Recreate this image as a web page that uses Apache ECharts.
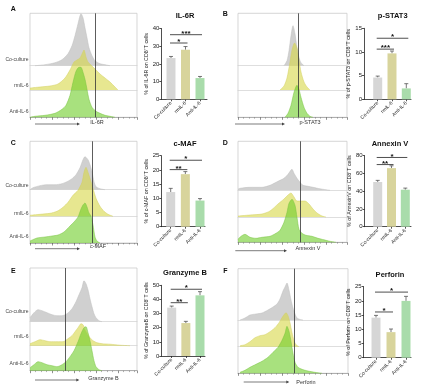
<!DOCTYPE html>
<html><head><meta charset="utf-8">
<script src="https://cdn.jsdelivr.net/npm/echarts@6/dist/echarts.min.js"></script>
<style>html,body{margin:0;padding:0;background:#fff}#c{width:427px;height:389px}</style>
</head><body><div id="c"></div>
<script>
// ---------- DATA ----------
const categories = ['Co-culture', 'rmIL-6', 'Anti-IL-6'];

// bar means, SEM and significance brackets [groupA, groupB, height, label]
const il6rMean = [23.3, 28.0, 12.0];   const il6rErr = [0.9, 1.8, 0.9];
const il6rSig = [[1, 2, 31.8, '*'], [1, 3, 36.5, '***']];
const pstat3Mean = [4.6, 9.7, 2.3];    const pstat3Err = [0.3, 0.5, 1.0];
const pstat3Sig = [[1, 2, 10.6, '***'], [1, 3, 12.9, '*']];
const cmafMean = [12.2, 18.5, 9.2];    const cmafErr = [1.3, 0.9, 0.7];
const cmafSig = [[1, 2, 20.1, '**'], [1, 3, 23.4, '*']];
const annexinMean = [50.4, 66.0, 41.7]; const annexinErr = [1.8, 2.6, 1.8];
const annexinSig = [[1, 2, 70, '**'], [1, 3, 78, '*']];
const gzmbMean = [34.2, 23.3, 42.9];   const gzmbErr = [1.1, 1.2, 2.6];
const gzmbSig = [[1, 2, 37.7, '**'], [1, 3, 47.2, '*']];
const prfMean = [14.1, 9.0, 20.0];     const prfErr = [0.8, 1.1, 1.6];
const prfSig = [[1, 2, 16.1, '*'], [1, 3, 23.1, '*']];

// flow histograms [intensity, count]
const il6rCo = [[5,0],[15,1],[25,3],[32,6],[38,12],[42,20],[45,30],[48,42],[50,50],[51,52],[53,48],[55,38],[57,28],[59,18],[62,10],[65,5],[70,2],[75,1],[80,0]];
const il6rRm = [[0,2],[10,3],[20,4],[28,6],[35,12],[40,20],[44,28],[47,30],[50,32],[52,36],[54,40],[56,33],[58,28],[62,24],[66,20],[70,16],[75,12],[80,8],[85,3],[88,0]];
const il6rAnti = [[0,0],[5,1],[15,2],[25,4],[32,8],[36,12],[40,22],[43,35],[46,46],[49,50],[51,50],[53,45],[55,38],[57,28],[59,18],[62,10],[66,6],[70,4],[75,2],[80,1],[85,0]];
const pstat3Co = [[46,0],[49,5],[51,15],[53,30],[55,40],[57,32],[59,18],[61,8],[63,3],[66,0]];
const pstat3Rm = [[42,0],[46,4],[49,12],[52,28],[54,40],[56.5,47],[59,42],[61,30],[63,18],[66,8],[69,3],[72,0]];
const pstat3Anti = [[47,0],[50,4],[53,12],[56,25],[59,32],[61,28],[63,20],[66,10],[69,4],[72,1],[75,0]];
const cmafCo = [[0,0],[3,2],[10,4],[17,5],[25,5],[32,6],[37,8],[42,11],[46,15],[50,22],[53,30],[55,33],[58,30],[60,25],[62,18],[64,8],[66,3],[70,1],[75,0]];
const cmafRm = [[0,1],[10,2],[20,3],[27,5],[33,9],[38,14],[43,21],[48,26],[52,34],[54,44],[56,49],[58,44],[60,38],[63,28],[66,18],[70,10],[74,5],[78,2],[83,0]];
const cmafAnti = [[0,2],[7,5],[15,6],[22,7],[28,8],[34,11],[40,17],[44,21],[48,26],[51,34],[53,38],[55,40],[57,36],[59,30],[61,27],[63,18],[65,6],[67,2],[70,0]];
const annexinCo = [[0,1],[2,2],[12,3],[24,3],[32,5],[40,9],[46,12],[50,16],[54,21],[56,17],[59,12],[62,8],[65,5],[70,4],[75,3],[82,1.5],[92,0]];
const annexinRm = [[0,1],[12,2],[24,3],[32,6],[40,13],[46,18],[50,22],[53,24],[56,20],[59,16],[63,16],[67,16],[71,13],[75,8],[79,4],[84,1],[88,0]];
const annexinAnti = [[0,3],[3,6],[7,8],[12,5],[18,4],[24,5],[32,6],[38,9],[42,12],[46,20],[49,30],[51,39],[54,43],[57,37],[59,25],[61,13],[64,9],[68,7],[74,6],[80,4],[86,2.5],[92,1],[98,0]];
const gzmbCo = [[0,4],[4,9],[8,12],[12,11],[17,9],[22,7],[27,6],[32,6],[37,8],[42,13],[46,20],[49,27],[52,34],[54,41],[56,38],[58,32],[60,23],[62,15],[64,8],[66,4],[69,1],[72,0]];
const gzmbRm = [[0,2],[5,4],[10,6],[15,5],[20,4],[27,4],[33,4],[38,7],[42,10],[45,14],[48,18],[51,22],[53,21],[55,17],[57,13],[60,8],[63,5],[67,3],[72,2],[80,1.5],[90,0.5],[100,0]];
const gzmbAnti = [[0,3],[4,6],[8,9],[12,8],[17,6],[22,5],[27,4],[32,6],[36,9],[40,14],[44,20],[48,29],[51,37],[54,43],[56,44],[58,38],[60,30],[62,20],[64,10],[66,4],[69,1],[72,0]];
const prfCo = [[2,0],[7,2],[12,5],[18,6],[24,7],[30,10],[35,13],[39,16],[42,21],[45,29],[47,33],[49,37],[51,30],[53,20],[55,12],[57,6],[59,2],[62,0.5],[65,0]];
const prfRm = [[2,1],[7,2],[12,5],[17,9],[22,11],[27,12],[32,15],[37,19],[41,24],[44,29],[46,32],[48,34],[50,31],[52,24],[54,14],[56,6],[58,2],[61,0]];
const prfAnti = [[2,1],[7,3],[12,6],[18,9],[24,12],[30,16],[35,21],[40,26],[44,33],[47,40],[49,47],[51,42],[53,32],[55,20],[57,11],[60,6],[64,4],[69,2.5],[74,1.5],[80,0.5],[84,0]];

// gate thresholds (intensity)
const gates = [65.7, 60.7, 62.3, 62.7, 35, 56.7];

// ---------- LAYOUT ----------
const panels = [
  {letter:'A', title:'IL-6R', marker:'IL-6R', yName:'% of IL-6R on CD8\u207AT cells', mean:il6rMean, err:il6rErr, sig:il6rSig, hist:[il6rCo, il6rRm, il6rAnti], gate:gates[0], yMax:40, yInt:10,
   L:30, R:137, T:13.3, bases:[65.7,90,117.3], markerXY:[97,122.3], arrow:[35,80,124], side:[60,86,111.5],
   barTop:28.5, barZero:99.3, axisX:161.3, endX:207, bars:[171,200], titleXY:[185,16], letterXY:[13.3,9.5]},
  {letter:'B', title:'p-STAT3', marker:'p-STAT3', yName:'% of p-STAT3 on CD8\u207AT cells', mean:pstat3Mean, err:pstat3Err, sig:pstat3Sig, hist:[pstat3Co, pstat3Rm, pstat3Anti], gate:gates[1], yMax:15, yInt:5,
   L:238, R:347, T:13.3, bases:[65.7,90,117.3], markerXY:[310,122.3], arrow:[235,285,124], side:null,
   barTop:28.3, barZero:99.3, axisX:364, endX:411, bars:[377.7,406.3], titleXY:[392.7,16], letterXY:[225.3,14]},
  {letter:'C', title:'c-MAF', marker:'c-MAF', yName:'% of c-MAF on CD8\u207AT cells', mean:cmafMean, err:cmafErr, sig:cmafSig, hist:[cmafCo, cmafRm, cmafAnti], gate:gates[2], yMax:25, yInt:5,
   L:30, R:137, T:141.3, bases:[189.7,216.3,243], markerXY:[98,246], arrow:[35,80,248.7], side:[185.3,213.5,236.5],
   barTop:155.7, barZero:226.7, axisX:161.3, endX:205, bars:[170.7,200], titleXY:[185,143.7], letterXY:[13.3,143]},
  {letter:'D', title:'Annexin V', marker:'Annexin V', yName:'% of AnnexinV on CD8\u207AT cells', mean:annexinMean, err:annexinErr, sig:annexinSig, hist:[annexinCo, annexinRm, annexinAnti], gate:gates[3], yMax:80, yInt:20,
   L:238, R:347, T:141.3, bases:[190.3,217,242.3], markerXY:[308,248], arrow:[235.3,287,250.7], side:null,
   barTop:155.7, barZero:226.7, axisX:364.7, endX:411, bars:[377.7,405.3], titleXY:[390,143.7], letterXY:[225.3,143]},
  {letter:'E', title:'Granzyme B', marker:'Granzyme B', yName:'% of GranzymeB on CD8\u207AT cells', mean:gzmbMean, err:gzmbErr, sig:gzmbSig, hist:[gzmbCo, gzmbRm, gzmbAnti], gate:gates[4], yMax:50, yInt:10,
   L:30, R:137, T:268, bases:[321.7,345.7,370.7], markerXY:[103.5,378.7], arrow:[35,79.3,380], side:[312,337,363.3],
   barTop:285.3, barZero:356, axisX:161.3, endX:205, bars:[171.7,200], titleXY:[185,273.3], letterXY:[13.3,271]},
  {letter:'F', title:'Perforin', marker:'Perforin', yName:'% of Perforin on CD8\u207AT cells', mean:prfMean, err:prfErr, sig:prfSig, hist:[prfCo, prfRm, prfAnti], gate:gates[5], yMax:25, yInt:5,
   L:238, R:348, T:268.7, bases:[320,346.7,373.3], markerXY:[306,382.5], arrow:[243.7,289.3,382], side:null,
   barTop:286.7, barZero:357.7, axisX:363.7, endX:411, bars:[376,406], titleXY:[390,275], letterXY:[225.3,271]}
];

const FONT = 'Liberation Sans, Arial, Helvetica, sans-serif';
const histFill = ['#d0d0d0', 'rgba(215,215,70,0.6)', 'rgba(110,205,40,0.6)'];
const histEdge = ['#bcbcbc', '#d2cf60', '#78c240'];
const barColors = ['#d6d6d6', '#d8d49c', '#a9dcab'];

const grids = [], xAxes = [], yAxes = [], series = [], graphics = [];

panels.forEach(p => {
  // ---- histogram ridges ----
  p.hist.forEach((curve, i) => {
    const gi = grids.length;
    const h = p.bases[i] - p.T;
    const last = i === 2;
    grids.push({left: p.L, top: p.T, width: p.R - p.L, height: h, show: last,
      borderColor: '#c4c4c4', borderWidth: 0.7, backgroundColor: 'transparent'});
    xAxes.push({gridIndex: gi, type: 'value', min: 0, max: p.R - p.L, interval: 22,
      axisLine: {show: true, lineStyle: {color: last ? '#9a9a9a' : '#d0d0d0', width: 0.7}},
      axisTick: {show: last, length: 2.5, lineStyle: {color: '#444', width: 0.6}},
      minorTick: {show: last, splitNumber: 4, length: 1.4, lineStyle: {color: '#666', width: 0.5}},
      axisLabel: {show: false}, splitLine: {show: false}});
    yAxes.push({gridIndex: gi, type: 'value', min: 0, max: h, show: false});
    const s = {type: 'line', xAxisIndex: gi, yAxisIndex: gi, data: curve, symbol: 'none', smooth: 0.25,
      lineStyle: {color: histEdge[i], width: 0.5}, areaStyle: {color: histFill[i], opacity: 1},
      silent: true, animation: false, clip: false};
    if (last) {
      s.markLine = {silent: true, symbol: 'none', label: {show: false}, animation: false,
        lineStyle: {color: '#333', width: 0.8, type: 'solid'}, data: [{xAxis: p.gate}]};
    }
    series.push(s);
  });

  // ---- bar chart ----
  const gi = grids.length;
  const sp = (p.bars[1] - p.bars[0]) / 2;
  const xmin = 1 - (p.bars[0] - p.axisX) / sp;
  const w = p.endX - p.axisX;
  grids.push({left: p.axisX, top: p.barTop, width: w, height: p.barZero - p.barTop});
  xAxes.push({gridIndex: gi, type: 'value', min: xmin, max: xmin + w / sp,
    axisLine: {show: true, lineStyle: {color: '#222', width: 0.8}},
    axisTick: {show: true, customValues: [1, 2, 3], length: 2, lineStyle: {color: '#222', width: 0.8}},
    axisLabel: {show: true, customValues: [1, 2, 3], rotate: 45, fontSize: 5, color: '#222', margin: 3,
      fontFamily: FONT, formatter: v => categories[Math.round(v) - 1] || ''},
    splitLine: {show: false}});
  yAxes.push({gridIndex: gi, type: 'value', min: 0, max: p.yMax, interval: p.yInt,
    axisLine: {show: true, lineStyle: {color: '#222', width: 0.8}},
    axisTick: {show: true, length: 2, lineStyle: {color: '#222', width: 0.8}},
    axisLabel: {fontSize: 6, color: '#222', margin: 2, fontFamily: FONT},
    splitLine: {show: false},
    name: p.yName, nameLocation: 'middle', nameGap: 12,
    nameTextStyle: {fontSize: 5.3, color: '#222', fontFamily: FONT}});
  series.push({type: 'bar', xAxisIndex: gi, yAxisIndex: gi, barWidth: 9, animation: false, silent: true,
    data: p.mean.map((v, i) => ({value: [i + 1, v], itemStyle: {color: barColors[i]}}))});
  series.push({type: 'custom', xAxisIndex: gi, yAxisIndex: gi, animation: false, silent: true,
    data: p.mean.map((v, i) => [i + 1, v, p.err[i]]),
    renderItem: (params, api) => {
      const x = api.value(0), m = api.value(1), e = api.value(2);
      const a = api.coord([x, m]), b = api.coord([x, m + e]);
      const st = {stroke: '#555', lineWidth: 0.8};
      return {type: 'group', children: [
        {type: 'line', shape: {x1: a[0], y1: a[1], x2: b[0], y2: b[1]}, style: st},
        {type: 'line', shape: {x1: b[0] - 2, y1: b[1], x2: b[0] + 2, y2: b[1]}, style: st}
      ]};
    }});
  series.push({type: 'custom', xAxisIndex: gi, yAxisIndex: gi, animation: false, silent: true, clip: false,
    data: p.sig.map(s => [s[0], s[1], s[2]]),
    renderItem: (params, api) => {
      const a = api.coord([api.value(0), api.value(2)]);
      const b = api.coord([api.value(1), api.value(2)]);
      const label = p.sig[params.dataIndex][3];
      return {type: 'group', children: [
        {type: 'line', shape: {x1: a[0] - 1, y1: a[1], x2: b[0] + 2, y2: b[1]}, style: {stroke: '#222', lineWidth: 0.8}},
        {type: 'text', style: {text: label, x: (a[0] + b[0]) / 2 + 0.5, y: a[1] + 3, textAlign: 'center',
          textVerticalAlign: 'bottom', font: 'bold 8px ' + FONT, fill: '#111'}}
      ]};
    }});

  // ---- texts & arrow ----
  graphics.push({type: 'text', x: p.letterXY[0], y: p.letterXY[1], silent: true,
    style: {text: p.letter, font: 'bold 7px ' + FONT, fill: '#111', textAlign: 'center', textVerticalAlign: 'middle'}});
  graphics.push({type: 'text', x: p.titleXY[0], y: p.titleXY[1], silent: true,
    style: {text: p.title, font: 'bold 7.5px ' + FONT, fill: '#111', textAlign: 'center', textVerticalAlign: 'middle'}});
  graphics.push({type: 'text', x: p.markerXY[0], y: p.markerXY[1], silent: true,
    style: {text: p.marker, font: '5.5px ' + FONT, fill: '#333', textAlign: 'center', textVerticalAlign: 'middle'}});
  const [ax1, ax2, ay] = p.arrow;
  graphics.push({type: 'line', silent: true, shape: {x1: ax1, y1: ay, x2: ax2 - 2, y2: ay}, style: {stroke: '#444', lineWidth: 0.7}});
  graphics.push({type: 'polygon', silent: true, shape: {points: [[ax2, ay], [ax2 - 3, ay - 1.5], [ax2 - 3, ay + 1.5]]}, style: {fill: '#444'}});
  if (p.side) {
    categories.forEach((c, i) => {
      graphics.push({type: 'text', x: p.L - 1.5, y: p.side[i], silent: true,
        style: {text: c, font: '5px ' + FONT, fill: '#444', textAlign: 'right', textVerticalAlign: 'middle'}});
    });
  }
});

const chart = echarts.init(document.getElementById('c'), null, {renderer: 'canvas', width: 427, height: 389});
chart.setOption({
  backgroundColor: '#fff',
  animation: false,
  textStyle: {fontFamily: FONT},
  grid: grids, xAxis: xAxes, yAxis: yAxes, series: series, graphic: graphics
});
</script>
</body></html>
